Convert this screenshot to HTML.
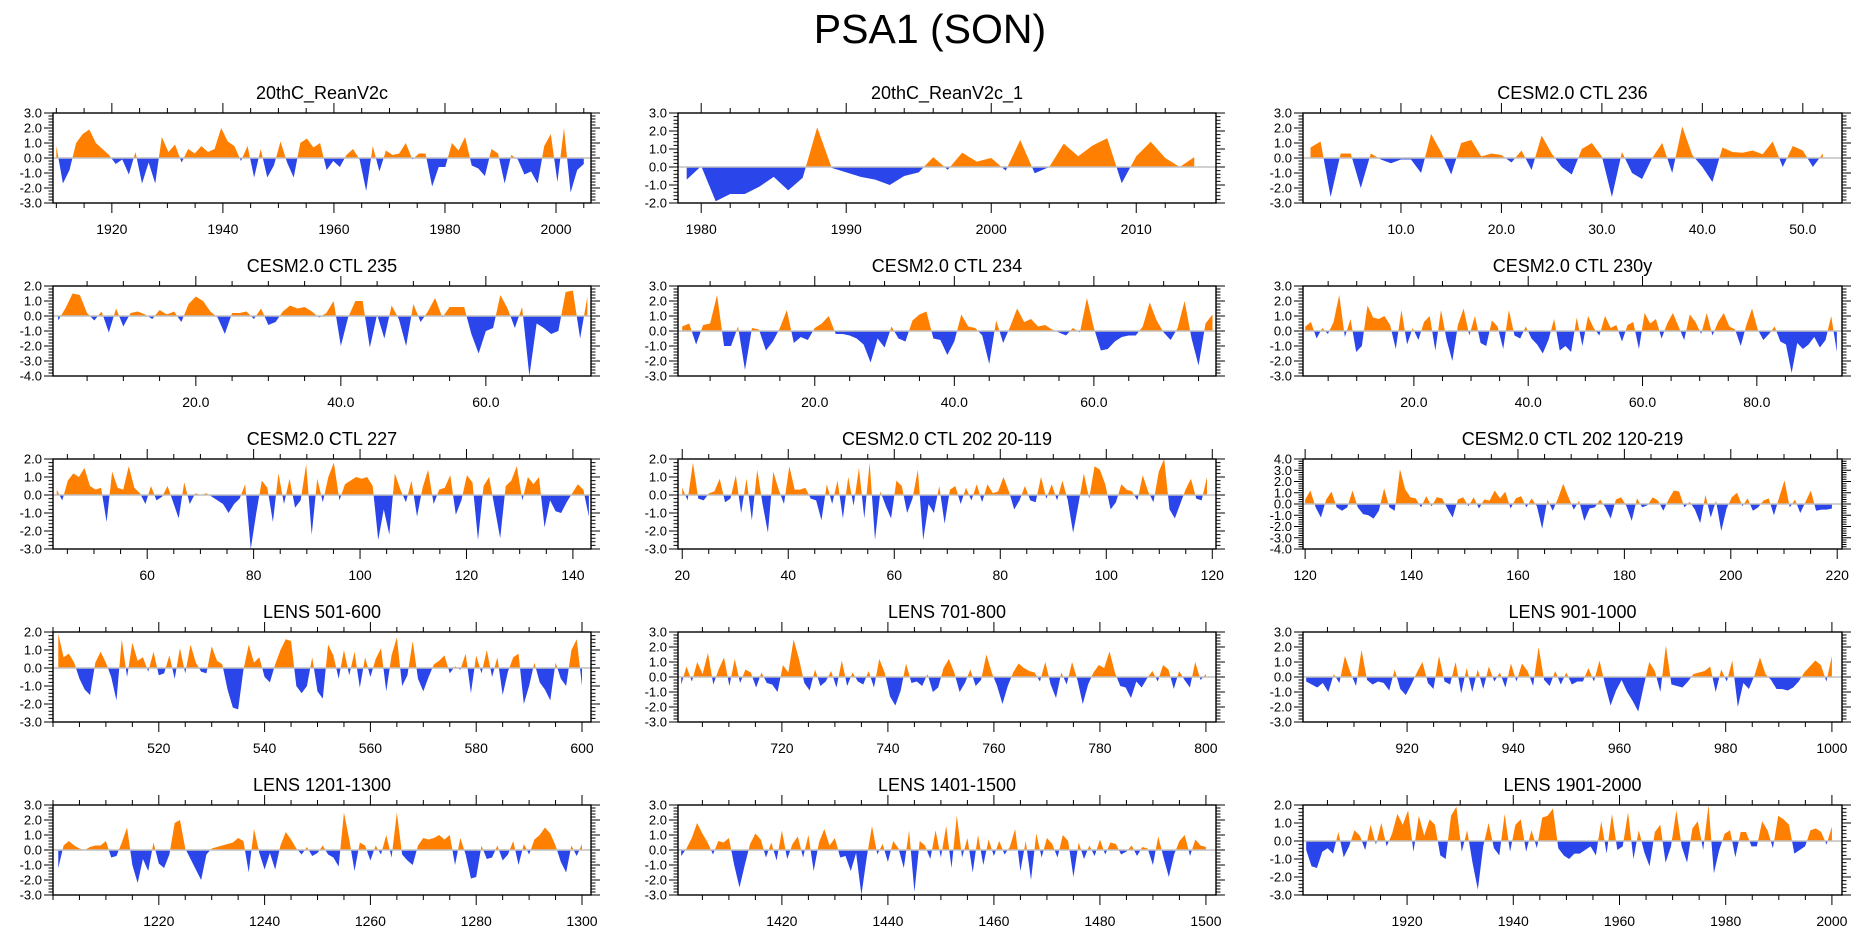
<!DOCTYPE html>
<html><head><meta charset="utf-8"><style>
html,body{margin:0;padding:0;background:#fff;}
svg{display:block;font-family:"Liberation Sans",sans-serif;}
</style></head><body>
<svg id="fig" width="1861" height="936" viewBox="0 0 1861 936" xmlns="http://www.w3.org/2000/svg">
<text x="930" y="43" font-size="41" text-anchor="middle" fill="#000">PSA1 (SON)</text>
</svg>
<script>
const titles=["20thC_ReanV2c","20thC_ReanV2c_1","CESM2.0 CTL 236","CESM2.0 CTL 235","CESM2.0 CTL 234","CESM2.0 CTL 230y","CESM2.0 CTL 227","CESM2.0 CTL 202 20-119","CESM2.0 CTL 202 120-219","LENS 501-600","LENS 701-800","LENS 901-1000","LENS 1201-1300","LENS 1401-1500","LENS 1901-2000"];
const dataStart=[1910,1979,1,1,1,1,43,20,120,501,701,901,1201,1401,1901];
const dataEnd=[2005,2014,52,74,77,94,143,119,219,600,800,1000,1300,1500,2000];
const xMins=[1909.4,1978.4,0.25,0.3,0.4,0.6,42.3,19.2,119.6,500,700.4,900.4,1200,1400.4,1900.4];
const xMaxs=[2006.3,2015.5,53.9,74.5,77.5,94.9,143.4,120.7,220.9,601.7,801.9,1001.9,1301.7,1501.9,2001.9];
const yMins=[-3,-2,-3,-4,-3,-3,-3,-3,-4,-3,-3,-3,-3,-3,-3];
const yMaxs=[3,3,3,2,3,3,2,2,4,2,3,3,3,3,2];
const xMajorTicks=[[1920,1940,1960,1980,2000],[1980,1990,2000,2010],[10,20,30,40,50],[20,40,60],[20,40,60],[20,40,60,80],[60,80,100,120,140],[20,40,60,80,100,120],[120,140,160,180,200,220],[520,540,560,580,600],[720,740,760,780,800],[920,940,960,980,1000],[1220,1240,1260,1280,1300],[1420,1440,1460,1480,1500],[1920,1940,1960,1980,2000]];
const xMinorSteps=[5,2,2,5,5,5,5,5,5,5,5,5,5,5,5];
const xLabelDec=[0,0,1,1,1,1,0,0,0,0,0,0,0,0,0];
const v1=[0.8,-1.7,-0.8,1.0,1.6,1.9,1.0,0.6,0.2,-0.4,-0.1,-1.1,0.4,-1.7,-0.3,-1.7,1.4,0.4,0.9,-0.3,0.6,0.3,0.8,0.4,0.6,2.0,1.1,0.8,-0.2,0.8,-1.3,0.6,-1.3,-0.5,1.1,-0.3,-1.3,1.0,1.3,0.7,1.0,-0.8,-0.2,-0.6,0.2,0.6,-0.1,-2.2,0.8,-0.9,0.5,0.2,0.3,1.0,-0.1,0.3,0.3,-1.9,-0.6,-0.6,1.0,0.5,1.4,-0.5,-0.7,-1.2,0.6,0.3,-1.7,0.2,-0.1,-1.1,-0.9,-1.7,0.8,1.6,-1.6,2.0,-2.3,-0.8,-0.4];
const v2=[-0.7,0.05,-1.9,-1.5,-1.5,-1.1,-0.55,-1.3,-0.6,2.2,-0.05,-0.3,-0.55,-0.7,-1.0,-0.5,-0.3,0.55,-0.15,0.8,0.3,0.5,-0.2,1.5,-0.35,0.0,1.3,0.6,1.2,1.6,-0.9,0.6,1.4,0.5,0.0,0.55];
const v3=[0.7,1.1,-2.6,0.3,0.3,-2.0,0.3,-0.1,-0.35,-0.1,-0.1,-1.0,1.6,0.4,-1.1,1.0,1.2,0.1,0.3,0.2,-0.3,0.5,-0.8,1.5,0.3,-0.6,-1.1,0.6,1.0,0.1,-2.6,0.4,-1.0,-1.4,0.0,1.0,-1.0,2.1,0.2,-0.6,-1.6,0.7,0.4,0.35,0.5,0.25,1.1,-0.6,0.8,0.5,-0.6,0.3];
const v4=[-0.3,0.5,1.5,1.4,0.2,-0.3,0.3,-1.1,0.5,-0.7,0.2,0.3,0.1,-0.2,0.4,0.1,0.3,-0.4,0.8,1.3,1.0,0.3,-0.1,-1.2,0.2,0.2,0.3,-0.2,0.5,-0.6,-0.4,0.3,0.7,0.5,0.6,0.3,-0.1,0.2,1.0,-2.0,-0.1,1.0,1.0,-2.1,0.1,-1.5,0.7,-0.2,-2.0,0.8,-0.4,0.3,1.2,-0.1,0.6,0.6,0.6,-1.2,-2.5,-1.0,-0.8,1.4,0.5,-0.8,0.6,-4.0,-0.5,-0.8,-1.2,-1.0,1.6,1.7,-1.5,1.3];
const v5=[0.3,0.5,-0.9,0.4,0.5,2.4,-1.0,-1.0,0.3,-2.6,0.2,0.1,-1.3,-0.7,0.2,1.4,-0.8,-0.4,-0.6,0.2,0.5,1.0,-0.2,-0.2,-0.3,-0.5,-0.9,-2.1,-0.5,-1.1,0.3,-0.5,-0.7,0.7,1.1,1.3,-0.5,-0.6,-1.6,-0.7,1.1,0.3,0.2,-0.3,-2.2,0.7,-0.8,0.3,1.5,0.6,0.8,0.3,0.4,0.1,-0.1,-0.3,0.2,-0.1,2.2,0.2,-1.3,-1.2,-0.7,-0.4,-0.3,-0.3,0.3,1.9,0.7,-0.1,-0.6,0.2,2.0,-0.5,-2.3,0.5,1.1];
const v6=[0.3,0.6,-0.5,0.2,-0.2,0.6,2.4,-0.4,0.8,-1.4,-1.0,1.7,0.9,0.8,1.0,0.4,-1.2,1.4,-0.9,0.2,-0.6,0.6,1.0,-1.3,1.4,-0.6,-2.0,0.4,1.5,-0.3,1.0,-0.8,-1.0,0.7,0.3,-1.2,1.4,-0.3,-0.5,0.3,-0.5,-0.9,-1.5,-0.6,0.8,-1.3,-1.0,-1.4,0.9,-1.0,1.0,0.2,-0.3,1.0,0.2,0.4,-0.7,0.4,0.6,-1.2,1.2,0.5,0.8,-0.5,0.5,1.2,0.3,-0.6,1.1,0.6,-0.2,1.2,-0.3,0.6,1.2,0.3,0.1,-1.0,0.4,1.5,0.1,-0.6,-0.2,0.3,-0.7,-0.9,-2.8,-0.8,-1.2,-0.9,-0.4,-1.1,-0.6,1.0,-1.4];
const v7=[0.3,-0.3,0.8,1.2,1.0,1.5,0.5,0.3,0.4,-1.5,1.3,0.4,0.3,1.6,0.4,0.1,-0.5,0.5,-0.3,-0.1,0.5,-0.4,-1.3,0.7,-0.5,0.1,0.0,0.1,-0.1,-0.3,-0.5,-1.0,-0.5,-0.2,0.6,-3.0,-1.0,0.8,0.4,-1.5,1.2,-0.5,0.9,-0.7,-0.3,1.7,-2.2,0.9,-0.4,1.0,1.8,-0.3,0.6,0.8,1.0,0.9,1.0,0.5,-2.5,-0.8,-2.2,1.2,0.3,-0.4,0.8,-1.2,0.4,1.4,-0.5,0.3,0.4,1.1,-1.1,-0.3,1.1,0.7,-2.5,0.5,1.0,-0.7,-2.4,0.5,0.8,1.6,-0.3,1.0,0.6,1.0,-1.8,-0.3,-0.9,-1.0,-0.4,0.1,0.6,0.3,-1.2];
const v8=[0.4,-0.3,1.8,-0.2,-0.3,0.1,0.2,0.9,-0.4,-0.2,1.1,-1.0,0.9,-1.4,1.4,-0.5,-2.1,1.3,0.3,-0.5,1.6,0.3,0.3,0.4,-0.2,-0.3,-1.4,0.6,-0.5,0.8,-1.3,1.0,-0.6,1.5,-1.3,1.8,-2.5,0.2,-0.6,-1.3,0.8,0.5,-1.0,-0.2,1.4,-2.5,-0.5,-1.0,0.5,-1.6,0.3,0.5,-0.5,0.4,-0.3,0.6,-0.4,0.6,0.1,0.2,1.0,0.2,-0.8,-0.3,0.5,-0.3,-0.4,1.0,-0.2,0.6,-0.3,0.8,-0.3,-2.1,-0.5,1.2,-0.2,1.6,1.4,0.6,-0.8,-0.4,0.6,0.3,0.2,-0.3,1.1,0.2,-0.4,1.3,2.0,-0.8,-1.3,-0.5,0.3,0.9,-0.2,-0.3,1.0];
const v9=[0.4,1.2,-0.3,-1.2,0.4,1.1,-0.3,-0.6,-0.3,1.2,-0.3,-0.9,-1.0,-1.3,-0.6,1.4,-0.3,-0.6,3.1,1.3,0.6,0.5,-0.3,0.7,-0.2,0.6,0.5,-0.4,-1.2,0.4,0.6,-0.2,0.6,-0.4,0.4,0.3,1.2,0.5,1.1,-0.4,0.5,0.7,-0.3,0.5,-0.2,-2.2,0.4,-0.6,0.5,1.8,0.6,-0.5,0.3,-1.5,-0.4,-0.3,0.4,-0.3,-1.3,0.4,0.6,-0.2,-1.5,0.5,-0.3,-0.1,0.6,0.3,-0.6,0.4,1.2,1.1,-0.3,0.2,-0.5,-1.7,0.8,-1.2,0.3,-2.4,-0.4,0.6,1.0,-0.2,0.5,-0.6,-0.3,0.3,0.5,-1.0,0.6,2.1,-0.3,0.4,-0.8,0.2,1.2,-0.6,-0.5,-0.5,-0.4];
const v10=[1.9,0.6,0.8,0.3,-0.6,-1.2,-1.5,0.3,0.9,0.3,-0.5,-1.8,1.6,-0.5,1.4,0.4,0.6,-0.2,0.9,-0.4,-0.3,0.7,-0.6,1.1,-0.3,1.3,0.3,-0.2,-0.3,1.2,0.4,0.2,-1.2,-2.2,-2.3,-0.1,1.3,0.3,0.6,-0.5,-0.8,0.2,1.0,1.6,1.5,-1.0,-1.4,-1.0,0.6,-1.3,-1.7,1.3,0.7,-0.6,1.0,-0.4,0.9,-1.1,0.6,-0.5,0.5,1.1,-1.3,0.7,1.7,-1.0,-0.4,1.5,-0.6,-1.3,-0.5,0.2,0.4,0.7,-0.3,0.1,-0.1,0.8,-1.4,0.7,-0.3,1.0,-0.5,0.6,-1.5,-0.2,0.6,0.8,-2.0,-1.0,0.3,-0.8,-1.2,-1.8,0.3,-0.6,-1.0,1.0,1.6,-1.0];
const v11=[-0.5,0.7,-0.3,1.0,0.2,1.6,-0.5,0.5,1.3,-0.6,1.2,-0.4,0.5,0.3,-0.7,0.3,-0.4,-0.5,-1.0,0.8,0.3,2.5,1.2,-0.4,-0.9,0.5,-0.6,-0.3,0.4,-0.7,1.1,-0.6,0.3,-0.3,-0.5,0.4,-0.7,1.2,0.3,-1.3,-1.9,-0.9,0.9,-0.4,-0.3,-0.6,0.2,-1.0,-0.7,0.6,1.2,0.3,-1.0,-0.4,0.5,-0.6,-0.2,1.5,0.3,-0.6,-1.8,-0.6,0.3,0.9,0.6,0.4,0.3,-0.3,1.0,-0.5,-1.4,0.3,-0.5,1.0,-0.2,-1.8,-0.5,0.3,0.8,0.6,1.7,0.3,-0.6,-0.7,-1.4,-0.3,-0.7,-0.1,0.4,-0.3,0.8,0.5,-0.8,0.4,-0.2,-0.7,1.0,-0.2,0.2];
const v12=[-0.3,-0.5,-0.7,-0.4,-1.0,0.2,-0.4,1.4,0.3,-0.6,1.8,-0.2,-0.5,-0.3,-0.4,-0.9,0.5,-0.8,-1.2,-0.5,0.3,1.0,-0.4,-0.8,1.4,-0.3,-0.5,1.0,-1.1,0.6,-1.0,0.5,-0.8,0.7,-0.3,0.3,-0.7,0.9,-0.3,0.9,0.4,-0.6,2.0,-0.2,-0.6,0.4,-0.5,0.3,-0.5,-0.3,-0.3,0.6,-0.3,1.1,-0.5,-1.9,-0.9,-0.2,-1.0,-1.6,-2.3,-0.6,1.0,0.4,-1.0,2.1,-0.5,-0.6,-0.7,-0.3,0.2,0.3,0.4,0.7,-1.0,0.5,-0.3,1.1,-2.0,-0.4,-0.8,0.1,1.3,0.2,-0.2,-0.8,-0.8,-0.9,-0.7,-0.3,0.3,0.7,1.1,0.8,-0.3,1.4];
const v13=[-1.2,0.3,0.6,0.3,0.1,0.0,0.2,0.3,0.3,0.6,-0.5,-0.4,0.5,1.5,-1.0,-2.2,-0.6,-1.4,0.5,-0.9,-1.2,-0.3,1.8,2.0,0.1,-0.6,-1.3,-2.0,-0.3,0.1,0.2,0.3,0.4,0.5,0.8,0.6,-1.5,1.4,-0.2,-1.3,-0.2,-1.3,0.3,1.2,0.7,0.1,-0.3,0.2,-0.4,-0.2,0.3,-0.3,-0.5,-1.1,2.5,0.7,-1.4,0.5,0.3,-0.7,0.3,-0.3,1.0,-0.5,2.5,-0.3,-0.7,-1.0,0.3,0.8,0.7,0.8,1.0,0.7,1.0,-1.0,0.8,-0.3,-1.9,-1.8,0.3,-0.6,-0.5,0.3,-0.7,-0.3,0.6,-1.0,0.4,-0.3,0.7,1.0,1.5,1.1,0.3,-0.8,-1.5,0.3,-0.4,0.4];
const v14=[-0.4,0.1,0.8,1.8,1.1,0.5,-0.3,0.6,0.5,0.8,-1.0,-2.5,-1.0,0.4,1.1,0.7,-0.5,0.5,-0.7,1.3,-0.6,0.4,0.9,-0.5,1.0,-1.4,0.5,1.4,0.3,0.8,-0.5,-0.4,-1.4,-0.2,-3.0,-0.5,1.6,-0.3,0.4,-0.8,0.6,0.1,-1.2,1.3,-2.8,0.6,0.3,-0.6,1.3,-0.5,1.6,-1.2,2.3,-0.5,0.8,-1.5,1.0,-1.0,0.7,-0.4,0.6,-0.3,0.2,1.4,-1.4,0.6,-2.0,1.1,-0.5,0.8,0.4,-0.5,1.0,0.6,-1.8,0.5,-0.6,0.3,-0.4,0.7,-0.3,0.5,0.4,-0.3,-0.1,0.3,-0.4,0.2,0.1,-1.0,0.9,-0.5,-1.8,-0.3,0.6,1.0,-0.4,0.7,0.3,0.2];
const v15=[-0.5,-1.4,-1.5,-0.6,-0.4,-0.7,0.5,-0.9,-0.3,0.6,0.3,-0.5,0.9,-0.2,1.0,-0.3,0.4,1.5,0.9,1.7,-0.6,1.4,0.3,1.2,0.9,-0.8,-1.0,1.4,1.9,-0.6,0.6,-1.2,-2.7,-0.3,1.0,-0.4,-0.8,1.5,-0.6,0.9,1.2,-0.6,0.6,-0.4,1.3,1.4,1.8,-0.4,-0.8,-1.0,-0.7,-0.7,-0.5,-0.3,-0.8,1.1,-0.7,1.5,-0.5,-0.3,1.6,-1.0,0.6,-0.6,-1.4,0.5,0.9,-1.2,-0.3,1.7,-0.3,-1.2,0.7,1.1,-0.5,2.0,-1.8,-0.5,0.4,0.6,-0.9,0.5,0.5,-0.3,-0.3,1.1,0.6,-0.4,1.4,1.2,0.9,-0.7,-0.5,-0.3,0.6,0.7,0.5,-0.2,0.8];
const seriesValues=[v1,v2,v3,v4,v5,v6,v7,v8,v9,v10,v11,v12,v13,v14,v15];

const NS="http://www.w3.org/2000/svg";
const svg=document.getElementById('fig');
const colLeft=[53,678,1303], panelW=538, rowTop0=113, rowStep=173, panelH=90;
function mk(tag,attrs,parent){const e=document.createElementNS(NS,tag);for(const k in attrs)e.setAttribute(k,attrs[k]);(parent||svg).appendChild(e);return e;}

for(let p=0;p<15;p++){
  const L=colLeft[p%3], T=rowTop0+rowStep*Math.floor(p/3), R=L+panelW+(p%3==2?1:0), B=T+panelH;
  const xmin=xMins[p], xmax=xMaxs[p], ymin=yMins[p], ymax=yMaxs[p];
  const sx=x=>L+(x-xmin)/(xmax-xmin)*(R-L);
  const sy=y=>B-(y-ymin)/(ymax-ymin)*(B-T);
  const g=mk('g',{});
  
  
  const t=mk('text',{x:(L+R)/2,y:T-14,'font-size':18,'text-anchor':'middle',fill:'#000'},g);
  
  
  t.textContent=titles[p];
  const vals=seriesValues[p], n=vals.length, x0=dataStart[p], x1=dataEnd[p];
  const px=i=>sx(x0+(x1-x0)*i/(n-1));
  let d='M'+px(0).toFixed(2)+','+sy(0).toFixed(2);
  for(let i=0;i<n;i++) d+=' L'+px(i).toFixed(2)+','+sy(vals[i]).toFixed(2);
  d+=' L'+px(n-1).toFixed(2)+','+sy(0).toFixed(2)+' Z';
  const defs=mk('defs',{},g);
  const cpA=mk('clipPath',{id:'ca'+p},defs); mk('rect',{x:L,y:T,width:R-L,height:sy(0)-T},cpA);
  const cpB=mk('clipPath',{id:'cb'+p},defs); mk('rect',{x:L,y:sy(0),width:R-L,height:B-sy(0)},cpB);
  const pa=mk('path',{d:d,fill:'#ff8000','clip-path':'url(#ca'+p+')'},g);
  
  
  const pb=mk('path',{d:d,fill:'#2a45ea','clip-path':'url(#cb'+p+')'},g);
  
  
  const z=mk('line',{x1:L,x2:R,y1:sy(0),y2:sy(0),stroke:'#c0c0c0','stroke-width':1.5},g);
  
  
  const fr=mk('rect',{x:L,y:T,width:R-L,height:B-T,fill:'none',stroke:'#000','stroke-width':1.4},g);
  
  
  let tk='';
  for(let k=Math.round(ymin*5);k<=Math.round(ymax*5);k++){
    const y=sy(k/5), major=(k%5==0), len=major?9:4.5;
    tk+='M'+(L-len)+','+y+' H'+L+' M'+R+','+y+' H'+(R+len)+' ';
    if(major){
      const yl=mk('text',{x:L-11,y:y+4.5,'font-size':13,'text-anchor':'end',fill:'#000'},g);
      
      
      yl.textContent=(k/5).toFixed(1);
    }
  }
  const st=xMinorSteps[p];
  for(let x=Math.ceil(xmin/st)*st;x<=xmax;x+=st){
    const X=sx(x), major=xMajorTicks[p].indexOf(x)>=0, len=major?10:5;
    tk+='M'+X+','+B+' V'+(B+len)+' M'+X+','+T+' V'+(T-len)+' ';
  }
  const tp=mk('path',{d:tk,stroke:'#000','stroke-width':1,fill:'none'},g);
  
  
  xMajorTicks[p].forEach(x=>{
    const xl=mk('text',{x:sx(x),y:B+31,'font-size':14,'text-anchor':'middle',fill:'#000'},g);
    
    
    xl.textContent=x.toFixed(xLabelDec[p]);
  });
}
</script>
</body></html>
